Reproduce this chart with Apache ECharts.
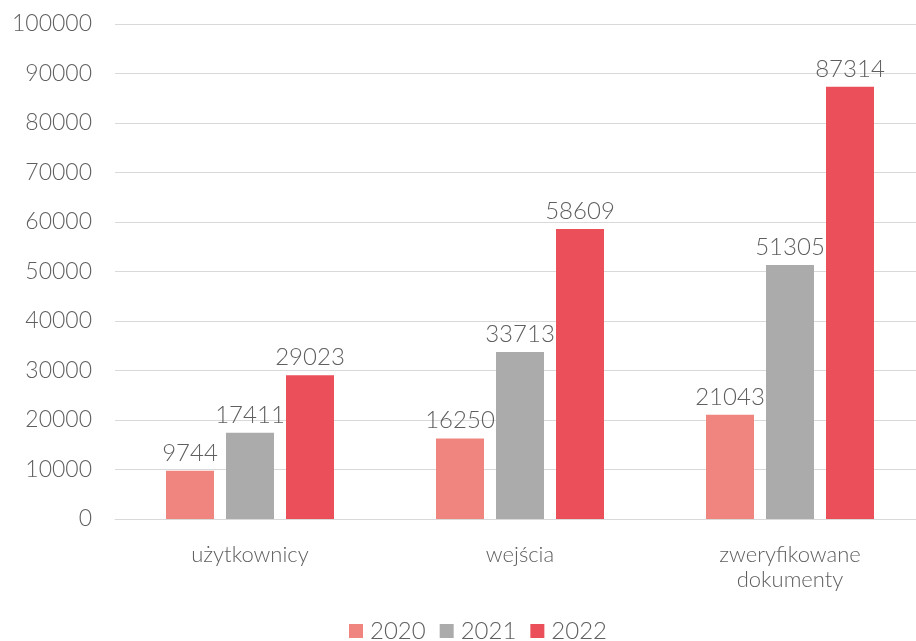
<!DOCTYPE html>
<html><head><meta charset="utf-8">
<script src="https://cdn.jsdelivr.net/npm/echarts@6/dist/echarts.min.js"></script>
<style>html,body{margin:0;padding:0;background:#fff;overflow:hidden}#c{width:925px;height:641px}</style>
</head><body><div id="c"></div>
<script>
const categories = ['użytkownicy', 'wejścia', 'zweryfikowane\ndokumenty'];
const seriesNames = ['2020', '2021', '2022'];
const values2020 = [9744, 16250, 21043];
const values2021 = [17411, 33713, 51305];
const values2022 = [29023, 58609, 87314];
const colors = ['#F0857F', '#ABABAB', '#EB4F5A'];
const yTicks = {min: 0, max: 100000, interval: 10000};

const chart = echarts.init(document.getElementById('c'), null, {renderer: 'canvas'});
const font = 'Lato';
const txt = '#5F5F5F';
const mk = (name, data, i) => ({
  name, type: 'bar', data, barWidth: 48, barGap: '25%',
  itemStyle: {color: colors[i]},
  label: {show: true, position: 'top', distance: 6, color: txt, fontSize: 24, fontWeight: 300, fontFamily: font}
});
chart.setOption({
  animation: false,
  textStyle: {fontFamily: font},
  grid: {left: 115, right: 0, top: 24, bottom: 122},
  legend: {
    bottom: -7, left: 344, itemWidth: 14, itemHeight: 14, itemGap: 14,
    textStyle: {color: txt, fontSize: 24, fontWeight: 300, fontFamily: font, padding: [0, 0, 0, 2]},
    data: seriesNames.map((n, i) => ({name: n, icon: 'rect'}))
  },
  xAxis: {
    type: 'category', data: categories,
    axisLine: {lineStyle: {color: '#D9D9D9', width: 1}},
    axisTick: {show: false},
    axisLabel: {color: txt, fontSize: 22, fontWeight: 300, fontFamily: font, margin: 23, lineHeight: 25}
  },
  yAxis: {
    type: 'value', min: yTicks.min, max: yTicks.max, interval: yTicks.interval,
    axisLine: {show: false}, axisTick: {show: false},
    splitLine: {lineStyle: {color: '#D9D9D9', width: 1}},
    axisLabel: {color: txt, fontSize: 23, fontWeight: 300, fontFamily: font, margin: 23, formatter: v => String(v)}
  },
  series: [mk(seriesNames[0], values2020, 0), mk(seriesNames[1], values2021, 1), mk(seriesNames[2], values2022, 2)]
});
</script></body></html>
